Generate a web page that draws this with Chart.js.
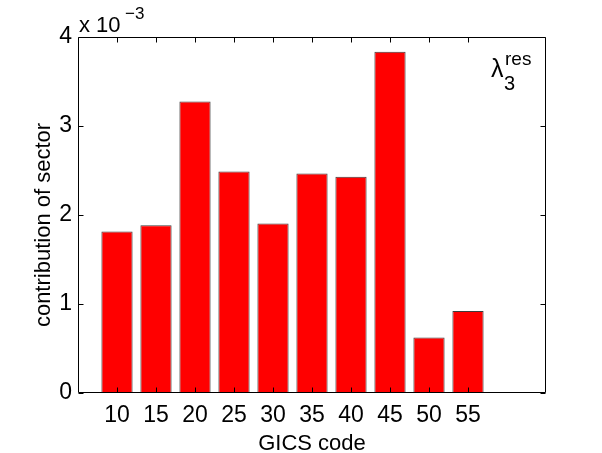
<!DOCTYPE html>
<html>
<head>
<meta charset="utf-8">
<script src="https://cdn.jsdelivr.net/npm/chart.js@4.4.0/dist/chart.umd.min.js"></script>
<style>
html,body{margin:0;padding:0;background:#fff;}
#wrap{width:602px;height:453px;position:relative;}
</style>
</head>
<body>
<div id="wrap"><canvas id="c" width="602" height="453"></canvas></div>
<script>
// GICS sector codes (categories)
const categories = ['10','15','20','25','30','35','40','45','50','55'];
// contribution of sector, in units of 1e-3
const contribution = [1.815, 1.885, 3.275, 2.49, 1.905, 2.465, 2.43, 3.833, 0.623, 0.92];
// y tick labels
const yTicks = [0, 1, 2, 3, 4];
const xTitle = 'GICS code';
const yTitle = 'contribution of sector';

const FONT = 'Liberation Sans, Arial, Helvetica, sans-serif';
const positions = categories.map((c, i) => i + 1);
const points = positions.map((p, i) => ({x: p, y: contribution[i]}));

const decor = {
  id: 'decor',
  afterDraw(chart) {
    const ctx = chart.ctx;
    const a = chart.chartArea;
    const xs = chart.scales.x, ys = chart.scales.y;
    ctx.save();
    ctx.strokeStyle = '#000';
    ctx.lineWidth = 1;
    const L = Math.round(a.left) + 0.5, R = Math.round(a.right) - 0.5;
    const T = Math.round(a.top) + 0.5, B = Math.round(a.bottom) - 0.5;
    ctx.beginPath();
    ctx.rect(L, T, R - L, B - T);
    ctx.stroke();
    const tl = 5;
    ctx.beginPath();
    yTicks.forEach(v => {
      const y = Math.round(ys.getPixelForValue(v)) + 0.5;
      ctx.moveTo(L, y); ctx.lineTo(L + tl, y);
      ctx.moveTo(R, y); ctx.lineTo(R - tl, y);
    });
    positions.forEach(v => {
      const x = Math.round(xs.getPixelForValue(v)) + 0.5;
      ctx.moveTo(x, B); ctx.lineTo(x, B - tl);
      ctx.moveTo(x, T); ctx.lineTo(x, T + tl);
    });
    ctx.stroke();
    ctx.fillStyle = '#000';
    ctx.textBaseline = 'alphabetic';
    // axis titles
    ctx.textAlign = 'center';
    ctx.font = '22px ' + FONT;
    ctx.fillText(xTitle, (a.left + a.right) / 2, 450);
    ctx.save();
    ctx.translate(50, (a.top + a.bottom) / 2 + 10);
    ctx.rotate(-Math.PI / 2);
    ctx.fillText(yTitle, 0, 0);
    ctx.restore();
    // exponent label
    ctx.textAlign = 'left';
    ctx.font = '22px ' + FONT;
    ctx.fillText('x 10', 79, 32);
    ctx.font = '17px ' + FONT;
    ctx.fillText('\u22123', 125, 19);
    // lambda annotation
    ctx.font = '25px ' + FONT;
    ctx.fillText('\u03bb', 491, 77);
    ctx.font = '19px ' + FONT;
    ctx.fillText('res', 505, 65);
    ctx.font = '20px ' + FONT;
    ctx.fillText('3', 504, 90);
    ctx.restore();
  }
};

new Chart(document.getElementById('c'), {
  type: 'bar',
  data: {
    datasets: [{
      data: points,
      backgroundColor: '#ff0000',
      borderColor: '#3c3c3c',
      borderWidth: 1,
      barPercentage: 0.8,
      categoryPercentage: 1.0
    }]
  },
  options: {
    responsive: false,
    animation: false,
    devicePixelRatio: 1,
    layout: {padding: {left: 0, top: 37, right: 56, bottom: 0}},
    plugins: {legend: {display: false}, tooltip: {enabled: false}},
    scales: {
      x: {
        type: 'linear',
        offset: false,
        min: 0, max: 12,
        grid: {display: false, drawTicks: false, offset: false},
        border: {display: false},
        afterBuildTicks: s => { s.ticks = positions.map(v => ({value: v})); },
        afterFit: s => { s.height = 60; },
        ticks: {
          autoSkip: false, maxRotation: 0, padding: 9,
          color: '#000', font: {family: FONT, size: 23},
          callback: v => categories[v - 1]
        },
        title: {display: false}
      },
      y: {
        min: 0, max: 4,
        grid: {display: false, drawTicks: false},
        border: {display: false},
        afterBuildTicks: s => { s.ticks = yTicks.map(v => ({value: v})); },
        afterFit: s => { s.width = 78; },
        ticks: {padding: 6, color: '#000', font: {family: FONT, size: 23}},
        title: {display: false}
      }
    }
  },
  plugins: [decor]
});
</script>
</body>
</html>
